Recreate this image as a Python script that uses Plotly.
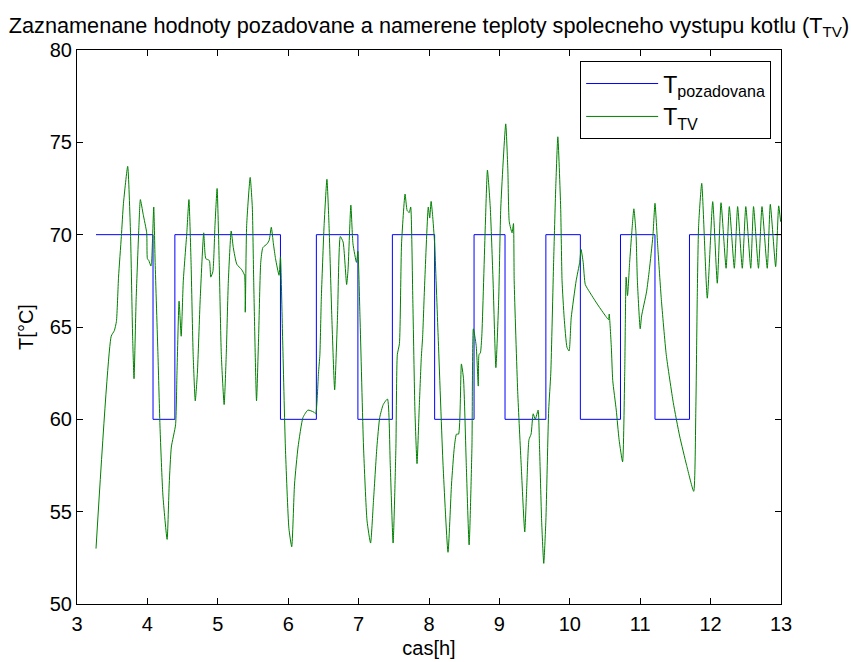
import plotly.graph_objects as go

# Requested temperature (step profile): change times [h] and values [°C]
req_t = [3.27, 4.08, 4.39, 5.89, 6.40, 6.99, 7.48, 8.08, 8.64, 9.08, 9.66, 10.15, 10.72, 11.21, 11.70, 13.0]
req_T = [70, 60, 70, 60, 70, 60, 70, 60, 70, 60, 70, 60, 70, 60, 70, 70]

# Measured temperature T_TV
tv_t = [3.27, 3.486, 3.53, 3.56, 3.59, 3.63, 3.66, 3.72, 3.76, 3.79, 3.81, 3.84, 3.88, 3.90, 3.94, 3.99,
        4.00, 4.02, 4.05, 4.06, 4.09, 4.11, 4.15, 4.18, 4.22, 4.28, 4.31, 4.34, 4.40, 4.42, 4.45, 4.48,
        4.51, 4.56, 4.59, 4.62, 4.65, 4.68, 4.71, 4.75, 4.80, 4.83, 4.88, 4.90, 4.93, 4.96, 4.99, 5.02,
        5.05, 5.09, 5.12, 5.15, 5.19, 5.22, 5.27, 5.34, 5.38, 5.39, 5.41, 5.46, 5.49, 5.51, 5.55, 5.58,
        5.61, 5.64, 5.70, 5.73, 5.76, 5.79, 5.82, 5.87, 5.89, 5.92, 5.96, 6.01, 6.05, 6.09, 6.14, 6.21,
        6.28, 6.36, 6.39, 6.43, 6.45, 6.47, 6.51, 6.55, 6.58, 6.62, 6.66, 6.70, 6.74, 6.78, 6.83, 6.85,
        6.89, 6.92, 6.97, 6.99, 7.02, 7.07, 7.12, 7.17, 7.21, 7.26, 7.30, 7.35, 7.41, 7.45, 7.49, 7.53,
        7.55, 7.58, 7.61, 7.66, 7.69, 7.72, 7.74, 7.77, 7.80, 7.83, 7.86, 7.89, 7.91, 7.94, 7.99, 8.01,
        8.03, 8.05, 8.08, 8.13, 8.20, 8.27, 8.32, 8.36, 8.39, 8.42, 8.46, 8.49, 8.53, 8.57, 8.61, 8.63,
        8.67, 8.70, 8.71, 8.73, 8.75, 8.80, 8.83, 8.87, 8.91, 8.95, 8.99, 9.02, 9.09, 9.12, 9.14, 9.18,
        9.20, 9.21, 9.26, 9.31, 9.36, 9.39, 9.42, 9.45, 9.48, 9.51, 9.55, 9.57, 9.60, 9.63, 9.66, 9.70,
        9.73, 9.77, 9.80, 9.83, 9.87, 9.89, 9.92, 9.96, 9.99, 10.02, 10.09, 10.14, 10.16, 10.19, 10.22, 10.28,
        10.38, 10.47, 10.55, 10.56, 10.59, 10.61, 10.66, 10.70, 10.75, 10.78, 10.80, 10.82, 10.85, 10.88, 10.91, 10.94,
        10.96, 11.00, 11.02, 11.09, 11.13, 11.18, 11.21, 11.25, 11.30, 11.37, 11.47, 11.56, 11.66, 11.76, 11.79, 11.81,
        11.83, 11.874, 11.953, 12.03, 12.095, 12.148, 12.22, 12.266, 12.337, 12.384, 12.45, 12.50, 12.57, 12.61, 12.68, 12.73,
        12.805, 12.848, 12.924, 12.967, 12.995]
tv_T = [53.0, 64.5, 64.8, 65.3, 67.7, 69.9, 71.7, 73.7, 70.1, 64.5, 62.2, 66.5, 70.5, 71.9, 71.1, 70.1,
        68.7, 68.6, 68.3, 68.5, 71.5, 68.5, 63.5, 59.5, 55.9, 53.5, 56.5, 58.5, 59.7, 62.5, 66.4, 64.5,
        67.5, 70.1, 71.9, 68.5, 63.5, 61.0, 62.5, 66.5, 70.1, 68.7, 68.6, 67.7, 68.0, 70.5, 72.5, 68.5,
        63.5, 60.8, 63.5, 67.5, 70.2, 69.3, 68.4, 68.1, 67.8, 65.8, 70.5, 73.1, 71.5, 67.5, 61.0, 64.5,
        68.5, 69.3, 69.5, 69.7, 70.4, 69.5, 68.7, 67.8, 68.8, 64.5, 58.5, 54.1, 53.1, 56.5, 58.5, 60.1,
        60.5, 60.4, 60.3, 62.5, 63.5, 66.5, 70.5, 73.0, 70.5, 65.5, 61.6, 65.5, 69.9, 69.6, 67.3, 68.1,
        71.6, 69.5, 68.5, 69.1, 65.5, 58.5, 54.5, 53.3, 55.5, 58.5, 60.1, 60.8, 61.1, 57.5, 53.3, 58.5,
        63.5, 64.1, 69.5, 72.2, 71.3, 71.2, 71.5, 66.5, 60.5, 57.6, 60.5, 63.3, 64.5, 67.5, 71.5, 70.9,
        71.8, 71.1, 69.5, 64.5, 57.5, 52.8, 56.5, 58.5, 59.2, 59.2, 63.0, 62.2, 57.5, 53.2, 58.5, 64.9,
        64.0, 61.8, 63.5, 63.6, 64.5, 70.5, 73.5, 71.5, 67.5, 62.8, 66.5, 71.5, 76.0, 73.5, 70.7, 70.1,
        70.6, 67.5, 61.5, 57.5, 53.9, 56.5, 58.9, 59.2, 60.3, 60.0, 60.5, 58.5, 54.5, 52.2, 54.5, 60.5,
        62.5, 68.5, 72.5, 75.3, 71.5, 67.5, 65.5, 63.9, 63.7, 65.5, 67.5, 68.5, 69.2, 68.5, 67.3, 66.9,
        66.3, 65.8, 65.4, 65.7, 63.9, 62.1, 60.5, 58.9, 57.7, 62.5, 67.7, 66.7, 68.5, 70.1, 71.4, 70.1,
        67.5, 64.9, 65.6, 66.9, 68.1, 69.9, 71.7, 69.3, 66.5, 63.5, 60.9, 59.1, 57.5, 56.1, 60.5, 66.5,
        70.5, 72.78, 66.56, 71.79, 67.37, 71.73, 68.18, 71.52, 68.18, 71.52, 68.18, 71.52, 68.18, 71.52, 68.18, 71.52,
        68.18, 71.64, 68.27, 71.56, 70.7]

x_ticks = [3, 4, 5, 6, 7, 8, 9, 10, 11, 12, 13]
y_ticks = [50, 55, 60, 65, 70, 75, 80]

FONT = "Liberation Sans, Arial, Helvetica, sans-serif"

fig = go.Figure()
fig.add_trace(go.Scatter(x=req_t, y=req_T, mode="lines", line_shape="hv",
                         line=dict(color="#0000ff", width=1),
                         name="T<sub>pozadovana</sub>", legendgroup="a"))
fig.add_trace(go.Scatter(x=tv_t, y=tv_T, mode="lines", line_shape="spline",
                         line=dict(color="#008000", width=1, smoothing=0.5),
                         name="T<sub>TV</sub>", legendgroup="b"))

axis_common = dict(showline=True, linecolor="black", linewidth=1, mirror="ticks",
                   ticks="inside", ticklen=6, tickcolor="black", tickwidth=1,
                   showgrid=False, zeroline=False, automargin=False,
                   tickfont=dict(family=FONT, size=20, color="black"))

fig.update_layout(
    width=851, height=662,
    margin=dict(l=77, r=70, t=50, b=58),
    paper_bgcolor="white", plot_bgcolor="white",
    font=dict(family=FONT, size=20, color="black"),
    title=dict(text="Zaznamenane hodnoty pozadovane a namerene teploty spolecneho vystupu kotlu (T<sub>TV</sub>)",
               x=0.5, xref="paper", xanchor="center", y=0.962, yanchor="middle",
               font=dict(family=FONT, size=21.7, color="black")),
    xaxis=dict(range=[3, 13], tickvals=x_ticks, ticklabelstandoff=2,
               title=dict(text="cas[h]", standoff=6, font=dict(family=FONT, size=20, color="black")),
               **axis_common),
    yaxis=dict(range=[50, 80], tickvals=y_ticks,
               title=dict(text="T[°C]", standoff=10, font=dict(family=FONT, size=20, color="black")),
               **axis_common),
    legend=dict(x=0.986, y=0.98, xanchor="right", yanchor="top",
                bordercolor="black", borderwidth=1, bgcolor="white",
                font=dict(family=FONT, size=23, color="black"),
                itemwidth=72, tracegroupgap=0),
    showlegend=True,
)

fig.write_html("out.html")
